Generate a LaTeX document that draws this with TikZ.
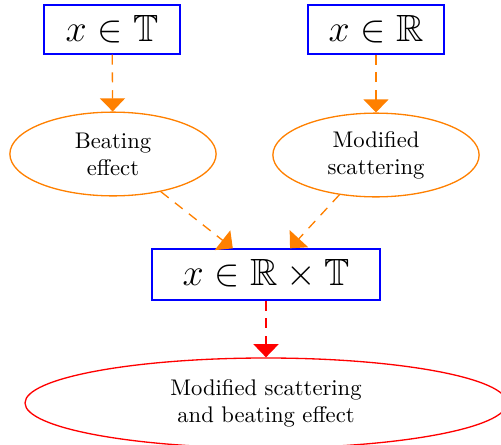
\documentclass[tikz,border=0pt]{standalone}
\usepackage{amsmath,amssymb,xcolor}
\usetikzlibrary{arrows.meta,positioning,shapes.geometric}
\definecolor{dgorange}{RGB}{255,128,0}
\definecolor{dgblue}{RGB}{0,0,255}
\definecolor{dgred}{RGB}{255,0,0}
\tikzset{
  spacebox/.style={draw=#1, semithick, rectangle, font=\LARGE,
                   minimum height=0.784cm, inner sep=2pt},
  effect/.style={draw=#1, semithick, ellipse, align=center,
                 font=\fontsize{10.3}{12.2}\selectfont,
                 minimum width=3.3cm, minimum height=1.34cm, inner sep=1pt},
  link/.style={-{Triangle[length=0.21cm, width=0.4cm]}, semithick,
               dash pattern=on 4.5pt off 3.6pt, #1},
}
\begin{document}
\begin{tikzpicture}
\useasboundingbox (0,0) rectangle (8.016,-7.12);

% the two domains
\node[spacebox=dgblue, minimum width=2.176cm] (torus) at (1.792,-0.472) {$x \in \mathbb{T}$};
\node[spacebox=dgblue, minimum width=2.176cm] (line) at (6.016,-0.472) {$x \in \mathbb{R}$};

% what each one gives
\node[effect=dgorange] (beat) at (1.808,-2.464) {Beating\\effect};
\node[effect=dgorange] (scat) at (6.016,-2.48) {Modified\\scattering};

\draw[link=dgorange] (torus) -- (beat);
\draw[link=dgorange] (line) -- (scat);

% the product
\node[spacebox=dgblue, minimum width=3.648cm, minimum height=0.816cm] (prod) at (4.256,-4.392)
      {$x \in \mathbb{R} \times \mathbb{T}$};

\draw[link=dgorange] (beat) -- (prod);
\draw[link=dgorange] (scat) -- (prod);

% both at once
\node[effect=dgred, minimum width=7.712cm, minimum height=1.44cm] (both) at (4.256,-6.448)
      {Modified scattering\\and beating effect};

\draw[link=dgred] (prod) -- (both);

\end{tikzpicture}
\end{document}
